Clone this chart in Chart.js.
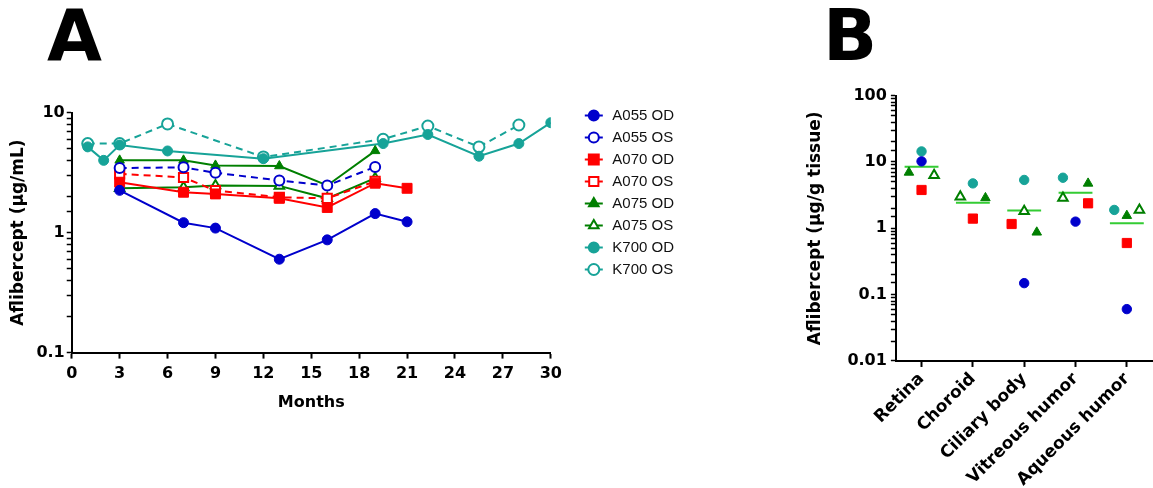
<!DOCTYPE html>
<html>
<head>
<meta charset="utf-8">
<script src="https://cdn.jsdelivr.net/npm/chart.js@4.4.0/dist/chart.umd.min.js"></script>
<style>
  html, body { margin: 0; padding: 0; background: #fff; width: 1153px; height: 488px; overflow: hidden; }
  .letter { position: absolute; font-family: "DejaVu Sans"; font-weight: bold; font-size: 71px; line-height: 1; color: #000; }
  #wrapA { position: absolute; left: 0; top: 101px; width: 684px; height: 315px; }
  #wrapB { position: absolute; left: 801px; top: 82px; width: 359px; height: 410px; }
</style>
</head>
<body>
<div class="letter" style="left:47px; top:0px;">A</div>
<div class="letter" style="left:823px; top:0px;">B</div>
<div id="wrapA"><canvas id="chartA"></canvas></div>
<div id="wrapB"><canvas id="chartB"></canvas></div>
<script>
// ---- panel A: concentration over time ----
const a055odMonths = [3, 7, 9, 13, 16, 19, 21];
const a055odValues = [2.25, 1.21, 1.09, 0.60, 0.87, 1.44, 1.23];
const a055osMonths = [3, 7, 9, 13, 16, 19];
const a055osValues = [3.45, 3.5, 3.15, 2.72, 2.47, 3.52];
const a070odMonths = [3, 7, 9, 13, 16, 19, 21];
const a070odValues = [2.63, 2.17, 2.1, 1.93, 1.62, 2.58, 2.34];
const a070osMonths = [3, 7, 9, 13, 16, 19];
const a070osValues = [3.09, 2.88, 2.24, 1.97, 1.93, 2.67];
const a075odMonths = [3, 7, 9, 13, 16, 19];
const a075odValues = [4.0, 4.0, 3.63, 3.59, 2.47, 4.8];
const a075osMonths = [3, 7, 9, 13, 16, 19];
const a075osValues = [2.34, 2.39, 2.47, 2.45, 1.93, 2.84];
const k700odMonths = [1, 2, 3, 6, 12, 19.5, 22.3, 25.5, 28, 30];
const k700odValues = [5.18, 4.0, 5.37, 4.79, 4.13, 5.52, 6.57, 4.33, 5.52, 8.24];
const k700osMonths = [1, 3, 6, 12, 19.5, 22.3, 25.5, 28];
const k700osValues = [5.52, 5.52, 8.04, 4.27, 6.0, 7.73, 5.18, 7.88];

// ---- panel B: tissue levels ----
const tissues = ['Retina', 'Choroid', 'Ciliary body', 'Vitreous humor', 'Aqueous humor'];
const tissueA055od = [10.2, null, 0.149, 1.26, 0.0605];
const tissueA070od = [3.78, 1.4, 1.16, 2.38, 0.60];
const tissueA075od = [6.95, 2.87, 0.87, 4.75, 1.55];
const tissueA075os = [6.3, 3.0, 1.8, 2.87, 1.89];
const tissueK700od = [14.4, 4.75, 5.35, 5.78, 1.89];
const tissueMeans = [8.47, 2.43, 1.85, 3.44, 1.19];
// side of the category each marker sits on (-1 left, 0 middle, 1 right)
const slotA055od = [0, 0, 0, 0, 0];
const slotA070od = [0, 0, -1, 1, 0];
const slotA075od = [-1, 1, 1, 1, 0];
const slotA075os = [1, -1, 0, -1, 1];
const slotK700od = [0, 0, 0, -1, -1];

const BLUE = '#0000cc', RED = '#ff0000', GREEN = '#007f00', TEAL = '#17a398', LIME = '#33cc33';
const boldFont = { family: 'DejaVu Sans', weight: 'bold', size: 16 };

function pts(xs, ys) {
  return xs.map((x, i) => ({ x: x, y: ys[i] }));
}

function series(label, xs, ys, color, style, open, dashed, radius) {
  return {
    label: label,
    data: pts(xs, ys),
    borderColor: color,
    backgroundColor: color,
    pointBackgroundColor: open ? '#fff' : color,
    pointBorderColor: color,
    pointBorderWidth: open ? 2 : 1,
    pointStyle: style,
    pointRadius: radius,
    borderWidth: 2,
    borderDash: dashed ? [7, 5] : [],
    tension: 0
  };
}

function logLabel(v) {
  const e = Math.round(Math.log10(v));
  if (Math.abs(Math.log10(v) - e) > 1e-6) return '';
  return e >= 0 ? String(Math.pow(10, e)) : Math.pow(10, e).toFixed(-e);
}

// draw a short line through each legend marker, like the plotted series
const legendLines = {
  id: 'legendLines',
  afterDraw(chart) {
    const legend = chart.legend;
    if (!legend || !legend.legendHitBoxes) return;
    const ctx = chart.ctx;
    legend.legendItems.forEach((item, i) => {
      const box = legend.legendHitBoxes[i];
      const ds = chart.data.datasets[item.datasetIndex];
      const cx = box.left + 11;
      const cy = box.top + box.height / 2;
      ctx.save();
      ctx.strokeStyle = ds.borderColor;
      ctx.lineWidth = 2;
      ctx.setLineDash([]);
      ctx.beginPath();
      ctx.moveTo(cx - 9, cy);
      ctx.lineTo(cx + 9, cy);
      ctx.stroke();
      ctx.fillStyle = ds.pointBackgroundColor;
      Chart.helpers.drawPoint(ctx, { pointStyle: ds.pointStyle, radius: ds.pointRadius, borderWidth: 2 }, cx, cy);
      ctx.restore();
    });
  }
};

new Chart(document.getElementById('chartA'), {
  type: 'line',
  data: {
    datasets: [
      series('A055 OD', a055odMonths, a055odValues, BLUE, 'circle', false, false, 5),
      series('A055 OS', a055osMonths, a055osValues, BLUE, 'circle', true, true, 5),
      series('A070 OD', a070odMonths, a070odValues, RED, 'rect', false, false, 7),
      series('A070 OS', a070osMonths, a070osValues, RED, 'rect', true, true, 6.5),
      series('A075 OD', a075odMonths, a075odValues, GREEN, 'triangle', false, false, 5.5),
      series('A075 OS', a075osMonths, a075osValues, GREEN, 'triangle', true, false, 5.5),
      series('K700 OD', k700odMonths, k700odValues, TEAL, 'circle', false, false, 5),
      series('K700 OS', k700osMonths, k700osValues, TEAL, 'circle', true, true, 5.5)
    ]
  },
  options: {
    responsive: true,
    maintainAspectRatio: false,
    animation: false,
    layout: { padding: { left: 4, right: 0, top: 0, bottom: 0 } },
    plugins: {
      tooltip: { enabled: false },
      legend: {
        position: 'right',
        align: 'start',
        labels: {
          font: { family: 'Liberation Sans', size: 15 },
          color: '#111',
          boxWidth: 22,
          boxHeight: 15,
          padding: 7,
          generateLabels: chart => Chart.defaults.plugins.legend.labels.generateLabels(chart)
            .map(l => Object.assign(l, { fillStyle: 'rgba(0,0,0,0)', strokeStyle: 'rgba(0,0,0,0)', lineWidth: 0 }))
        }
      }
    },
    scales: {
      x: {
        type: 'linear', min: 0, max: 30,
        ticks: { stepSize: 3, color: '#000', font: boldFont, padding: 6 },
        grid: { drawOnChartArea: false, color: '#000', tickLength: 6, tickWidth: 2 },
        border: { color: '#000', width: 2 },
        title: { display: true, text: 'Months', color: '#000', font: boldFont, padding: { top: 3 } }
      },
      y: {
        type: 'logarithmic', min: 0.1, max: 10,
        ticks: { autoSkip: false, color: '#000', font: boldFont, padding: 2, callback: v => logLabel(v) },
        grid: { drawOnChartArea: false, color: '#000', tickLength: 5, tickWidth: 1.5 },
        border: { color: '#000', width: 2 },
        title: { display: true, text: 'Aflibercept (µg/mL)', color: '#000', font: { family: 'DejaVu Sans', weight: 'bold', size: 17 }, padding: { bottom: 6 } }
      },
      gap: {
        type: 'linear', position: 'right', display: true,
        grid: { display: false }, border: { display: false }, ticks: { display: false },
        afterFit: s => { s.width = 25; }
      }
    }
  },
  plugins: [legendLines]
});

function tissuePoints(vals, slots) {
  return tissues.map((t, i) => ({ x: i + slots[i] * 0.245, y: vals[i] })).filter(p => p.y != null);
}

function tissueSeries(label, vals, slots, color, style, open, radius) {
  return {
    label: label,
    data: tissuePoints(vals, slots),
    showLine: false,
    pointBackgroundColor: open ? '#fff' : color,
    pointBorderColor: color,
    pointBorderWidth: open ? 2 : 1,
    pointStyle: style,
    pointRadius: radius
  };
}

const meanSegments = [];
tissueMeans.forEach((m, i) => {
  meanSegments.push({ x: i - 0.33, y: m }, { x: i + 0.33, y: m }, { x: i + 0.5, y: null });
});

new Chart(document.getElementById('chartB'), {
  type: 'line',
  data: {
    datasets: [
      tissueSeries('A055 OD', tissueA055od, slotA055od, BLUE, 'circle', false, 4.7),
      tissueSeries('A070 OD', tissueA070od, slotA070od, RED, 'rect', false, 6.5),
      tissueSeries('A075 OD', tissueA075od, slotA075od, GREEN, 'triangle', false, 5.5),
      tissueSeries('A075 OS', tissueA075os, slotA075os, GREEN, 'triangle', true, 5.5),
      tissueSeries('K700 OD', tissueK700od, slotK700od, TEAL, 'circle', false, 4.7),
      {
        label: 'Mean',
        data: meanSegments,
        borderColor: LIME,
        borderWidth: 2,
        pointRadius: 0,
        spanGaps: false
      }
    ]
  },
  options: {
    responsive: true,
    maintainAspectRatio: false,
    animation: false,
    plugins: { legend: { display: false }, tooltip: { enabled: false } },
    scales: {
      x: {
        type: 'linear', min: -0.5, max: 4.5,
        afterBuildTicks: s => { s.ticks = tissues.map((t, i) => ({ value: i })); },
        ticks: { autoSkip: false, minRotation: 45, maxRotation: 45, color: '#000', font: { family: 'DejaVu Sans', weight: 'bold', size: 17 }, padding: 2,
          callback: v => tissues[v] },
        grid: { drawOnChartArea: false, color: '#000', tickLength: 6, tickWidth: 2 },
        border: { color: '#000', width: 2 }
      },
      y: {
        type: 'logarithmic', min: 0.01, max: 100,
        ticks: { autoSkip: false, color: '#000', font: boldFont, padding: 4, callback: v => logLabel(v) },
        grid: { drawOnChartArea: false, color: '#000', tickLength: 5, tickWidth: 1.5 },
        border: { color: '#000', width: 2 },
        title: { display: true, text: 'Aflibercept (µg/g tissue)', color: '#000', font: { family: 'DejaVu Sans', weight: 'bold', size: 17 }, padding: { bottom: 18 } }
      }
    }
  }
});
</script>
</body>
</html>
